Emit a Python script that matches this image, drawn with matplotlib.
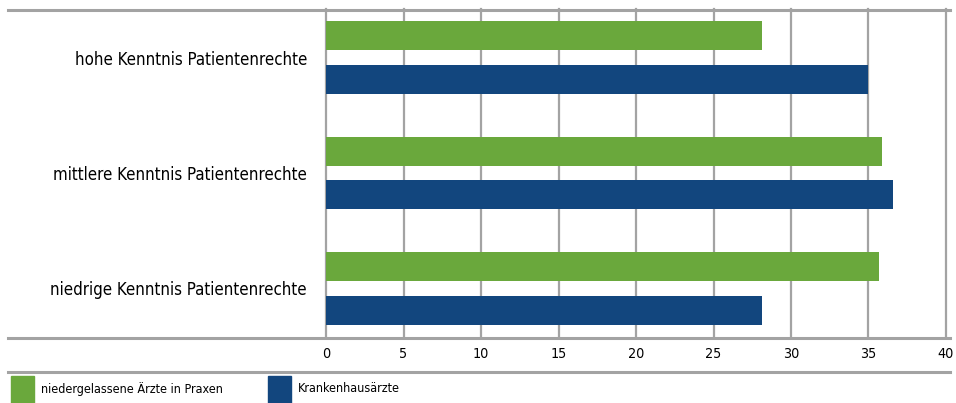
import matplotlib
matplotlib.use('Agg')
import matplotlib.pyplot as plt
from matplotlib.lines import Line2D
from matplotlib.patches import Rectangle
import numpy as np

plt.rcParams['font.family'] = ['DejaVu Sans']
plt.rcParams['font.stretch'] = 'condensed'

kategorien = ['hohe Kenntnis Patientenrechte',
              'mittlere Kenntnis Patientenrechte',
              'niedrige Kenntnis Patientenrechte']
praxen = [28.1, 35.9, 35.7]        # niedergelassene Ärzte in Praxen
krankenhaus = [35.0, 36.6, 28.1]   # Krankenhausärzte
serien = ['niedergelassene Ärzte in Praxen', 'Krankenhausärzte']
xticks = [0, 5, 10, 15, 20, 25, 30, 35, 40]

gruen = '#6aa83c'
blau = '#12467e'
grau = '#a3a3a3'

fig = plt.figure(figsize=(9.56, 4.03), dpi=100)
ax = fig.add_axes([326/956, 1-337/403, (946-326)/956, (337-9)/403])

y = np.arange(len(kategorien))
h = 0.25
off = 0.188
ax.barh(y - off, praxen, height=h, color=gruen, zorder=3)
ax.barh(y + off, krankenhaus, height=h, color=blau, zorder=3)

ax.set_xlim(0, 40)
ax.set_ylim(2.42, -0.42)
ax.set_xticks(xticks)
ax.set_xticklabels([str(t) for t in xticks], fontsize=10.3)
ax.set_yticks(y)
ax.set_yticklabels(kategorien, fontsize=12.1)
ax.tick_params(axis='both', length=0)
ax.tick_params(axis='x', pad=7)
ax.tick_params(axis='y', pad=13.7)
ax.grid(axis='x', color=grau, lw=1.6, zorder=1)
for gl in ax.get_xgridlines():
    gl.set_clip_on(False)
for s in ax.spines.values():
    s.set_visible(False)

# horizontal rules above and below the plot area and above the legend
for yy, lw in [(9.5, 2.2), (337.5, 2.2), (372, 2.2)]:
    fig.add_artist(Line2D([8/956, 950/956], [1-yy/403, 1-yy/403],
                          color=grau, lw=lw, transform=fig.transFigure))

# legend
for x0, farbe, text in [(11, gruen, serien[0]), (268, blau, serien[1])]:
    fig.add_artist(Rectangle((x0/956, 0), 23/956, 27/403, color=farbe,
                             transform=fig.transFigure))
    fig.text((x0+30)/956, 1-389/403, text, fontsize=9.0, va='center')

fig.savefig('out.png', dpi=100)
